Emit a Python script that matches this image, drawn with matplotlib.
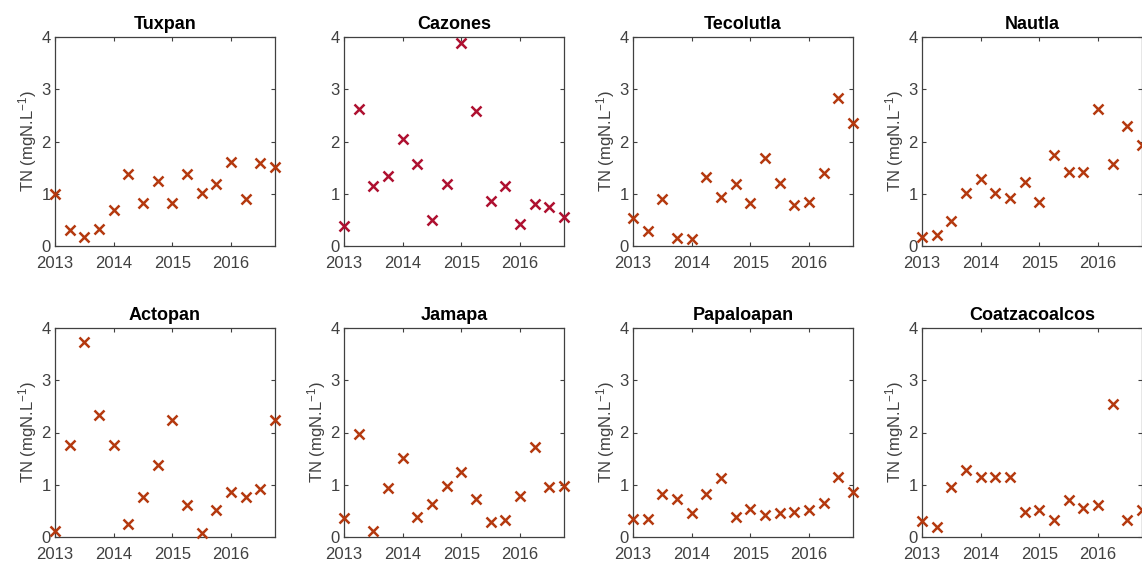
import matplotlib
matplotlib.use("Agg")
import matplotlib.pyplot as plt

# quarterly sampling, 2013 Q1 .. 2016 Q4
dates = [2013 + 0.25 * i for i in range(16)]

rivers = ["Tuxpan", "Cazones", "Tecolutla", "Nautla",
          "Actopan", "Jamapa", "Papaloapan", "Coatzacoalcos"]

tuxpan = [1.00, 0.31, 0.17, 0.32, 0.69, 1.38, 0.83, 1.24,
          0.82, 1.38, 1.02, 1.18, 1.61, 0.89, 1.58, 1.52]
cazones = [0.39, 2.63, 1.14, 1.34, 2.04, 1.56, 0.50, 1.19,
           3.89, 2.59, 0.87, 1.14, 0.42, 0.81, 0.74, 0.56]
tecolutla = [0.53, 0.29, 0.89, 0.15, 0.13, 1.32, 0.93, 1.19,
             0.83, 1.68, 1.21, 0.79, 0.85, 1.40, 2.83, 2.35]
nautla = [0.18, 0.22, 0.48, 1.02, 1.28, 1.02, 0.91, 1.22,
          0.84, 1.74, 1.41, 1.41, 2.62, 1.57, 2.29, 1.94]
actopan = [0.11, 1.76, 3.74, 2.34, 1.76, 0.24, 0.77, 1.37,
           2.23, 0.62, 0.08, 0.52, 0.87, 0.77, 0.92, 2.23]
jamapa = [0.36, 1.98, 0.11, 0.93, 1.52, 0.38, 0.63, 0.98,
          1.24, 0.73, 0.29, 0.33, 0.78, 1.72, 0.96, 0.97]
papaloapan = [0.34, 0.34, 0.82, 0.72, 0.46, 0.83, 1.12, 0.38,
              0.54, 0.43, 0.45, 0.47, 0.51, 0.66, 1.15, 0.87]
coatzacoalcos = [0.31, 0.19, 0.96, 1.28, 1.14, 1.14, 1.15, 0.47,
                 0.52, 0.32, 0.71, 0.56, 0.61, 2.55, 0.33, 0.52]

series = [tuxpan, cazones, tecolutla, nautla,
          actopan, jamapa, papaloapan, coatzacoalcos]

RUST = "#B4390F"
CRIMSON = "#AE1030"
AXIS_GREY = "#404040"

plt.rcParams["font.family"] = ["Liberation Sans", "DejaVu Sans"]
plt.rcParams["mathtext.fontset"] = "custom"
plt.rcParams["mathtext.rm"] = "Liberation Sans"
plt.rcParams["mathtext.default"] = "regular"

W, H = 1142, 562
fig = plt.figure(figsize=(W / 100, H / 100), dpi=100)

lefts = [55, 344, 633, 922]
bottoms = [246, 537]
aw, ah = 220, 209

for k, (name, vals) in enumerate(zip(rivers, series)):
    row, col = divmod(k, 4)
    ax = fig.add_axes([lefts[col] / W, 1 - bottoms[row] / H, aw / W, ah / H])
    color = CRIMSON if name == "Cazones" else RUST
    ax.plot(dates, vals, linestyle="none", marker="x", markersize=7.5,
            markeredgewidth=1.8, color=color, clip_on=False, zorder=3)

    ax.set_xlim(2013, 2016.75)
    ax.set_ylim(0, 4)
    ax.set_xticks([2013, 2014, 2015, 2016])
    ax.set_yticks([0, 1, 2, 3, 4])
    ax.tick_params(direction="in", length=3, width=0.8, top=True, right=True,
                   labelsize=12, colors=AXIS_GREY)
    ax.tick_params(axis="x", pad=7)
    ax.tick_params(axis="y", pad=3)
    for s in ax.spines.values():
        s.set_color(AXIS_GREY)
        s.set_linewidth(0.9)

    ax.set_title(name, fontsize=13, fontweight="bold", pad=6)
    if name != "Cazones":
        ax.set_ylabel("TN (mgN.L$^{-1}$)", fontsize=12, color=AXIS_GREY,
                      labelpad=2)

fig.savefig("out.png", dpi=100)
